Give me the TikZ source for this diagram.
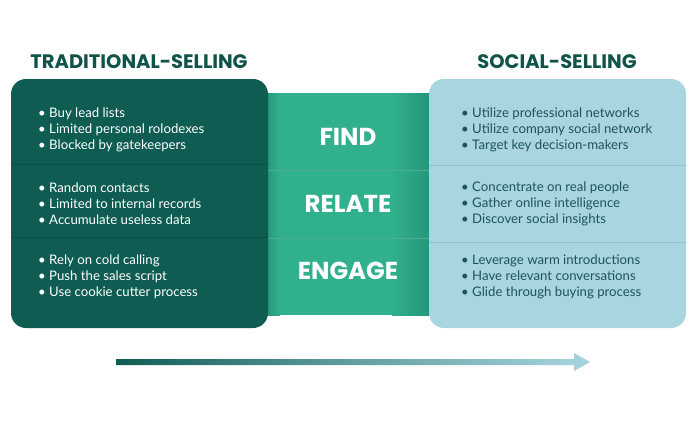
\documentclass[tikz,border=0pt]{standalone}
\usepackage{fontspec}
\setmainfont{Lato}
\newfontfamily\headfont{Poppins}[UprightFont=* SemiBold,BoldFont=* Bold]
\definecolor{darkgreen}{HTML}{0E5C52}
\definecolor{titlegreen}{HTML}{0F5349}
\definecolor{midgreen}{HTML}{31B08E}
\definecolor{midgreendark}{HTML}{24967A}
\definecolor{lightblue}{HTML}{A8D5DF}
\definecolor{lightline}{HTML}{8FC2CC}
\definecolor{darkline}{HTML}{0A5047}
\definecolor{righttext}{HTML}{1D5558}
\tikzset{
  title/.style={font=\headfont\fontsize{19.5}{22}\selectfont\bfseries, text=titlegreen, inner sep=0pt},
  stage/.style={font=\headfont\fontsize{24.5}{28}\selectfont\bfseries, text=white, inner sep=0pt},
  leftlist/.style={font=\fontsize{13.2}{16}\selectfont, text=white, align=left, anchor=west, inner sep=0pt},
  rightlist/.style={font=\fontsize{13.2}{16}\selectfont, text=righttext, align=left, anchor=west, inner sep=0pt},
}
\begin{document}
\begin{tikzpicture}[x=1pt,y=-1pt]
\useasboundingbox (0,0) rectangle (700,420);
\fill[white] (0,0) rectangle (700,420);
% middle band
\fill[midgreen] (260,93) rectangle (429,315);
\shade[left color=midgreen, right color=midgreendark] (392,93) rectangle (429,315);
\shade[left color=midgreendark, right color=midgreen] (266,93) rectangle (280,315);
\draw[midgreendark!80, line width=0.8pt] (268,170) -- (429,170);
\draw[midgreendark!80, line width=0.8pt] (268,238) -- (429,238);
% left box
\fill[darkgreen, rounded corners=15pt] (11,79) rectangle (268,328);
\draw[darkline, line width=0.8pt] (11,164) -- (268,164);
\draw[darkline, line width=0.8pt] (11,237) -- (268,237);
% right box
\fill[lightblue, rounded corners=15pt] (429,79) rectangle (686,328);
\draw[lightline, line width=0.8pt] (429,165) -- (686,165);
\draw[lightline, line width=0.8pt] (429,242) -- (686,242);
% titles
\node[title] (ttrad) at (139,62) {TRADITIONAL-SELLING};
\node[title] (tsoc) at (557,62) {SOCIAL-SELLING};
% stages
\node[stage] (find) at (348,137) {FIND};
\node[stage] (relate) at (348,204) {RELATE};
\node[stage] (engage) at (348,271) {ENGAGE};
% left lists
\node[leftlist] (l1) at (38,130) {• Buy lead lists\\• Limited personal rolodexes\\• Blocked by gatekeepers};
\node[leftlist] (l2) at (38,204) {• Random contacts\\• Limited to internal records\\• Accumulate useless data};
\node[leftlist] (l3) at (38,277) {• Rely on cold calling\\• Push the sales script\\• Use cookie cutter process};
% right lists
\node[rightlist] (r1) at (461,130) {• Utilize professional networks\\• Utilize company social network\\• Target key decision-makers};
\node[rightlist] (r2) at (461,204) {• Concentrate on real people\\• Gather online intelligence\\• Discover social insights};
\node[rightlist] (r3) at (461,277) {• Leverage warm introductions\\• Have relevant conversations\\• Glide through buying process};
% arrow
\coordinate (astart) at (116,362);
\coordinate (aend) at (590,362);
\shade[left color=darkgreen, right color=lightblue, middle color=darkgreen!45!lightblue]
  (116,359) -- (574,359) -- (574,353) -- (590,362) -- (574,371) -- (574,365) -- (116,365) -- cycle;
\end{tikzpicture}
\end{document}
